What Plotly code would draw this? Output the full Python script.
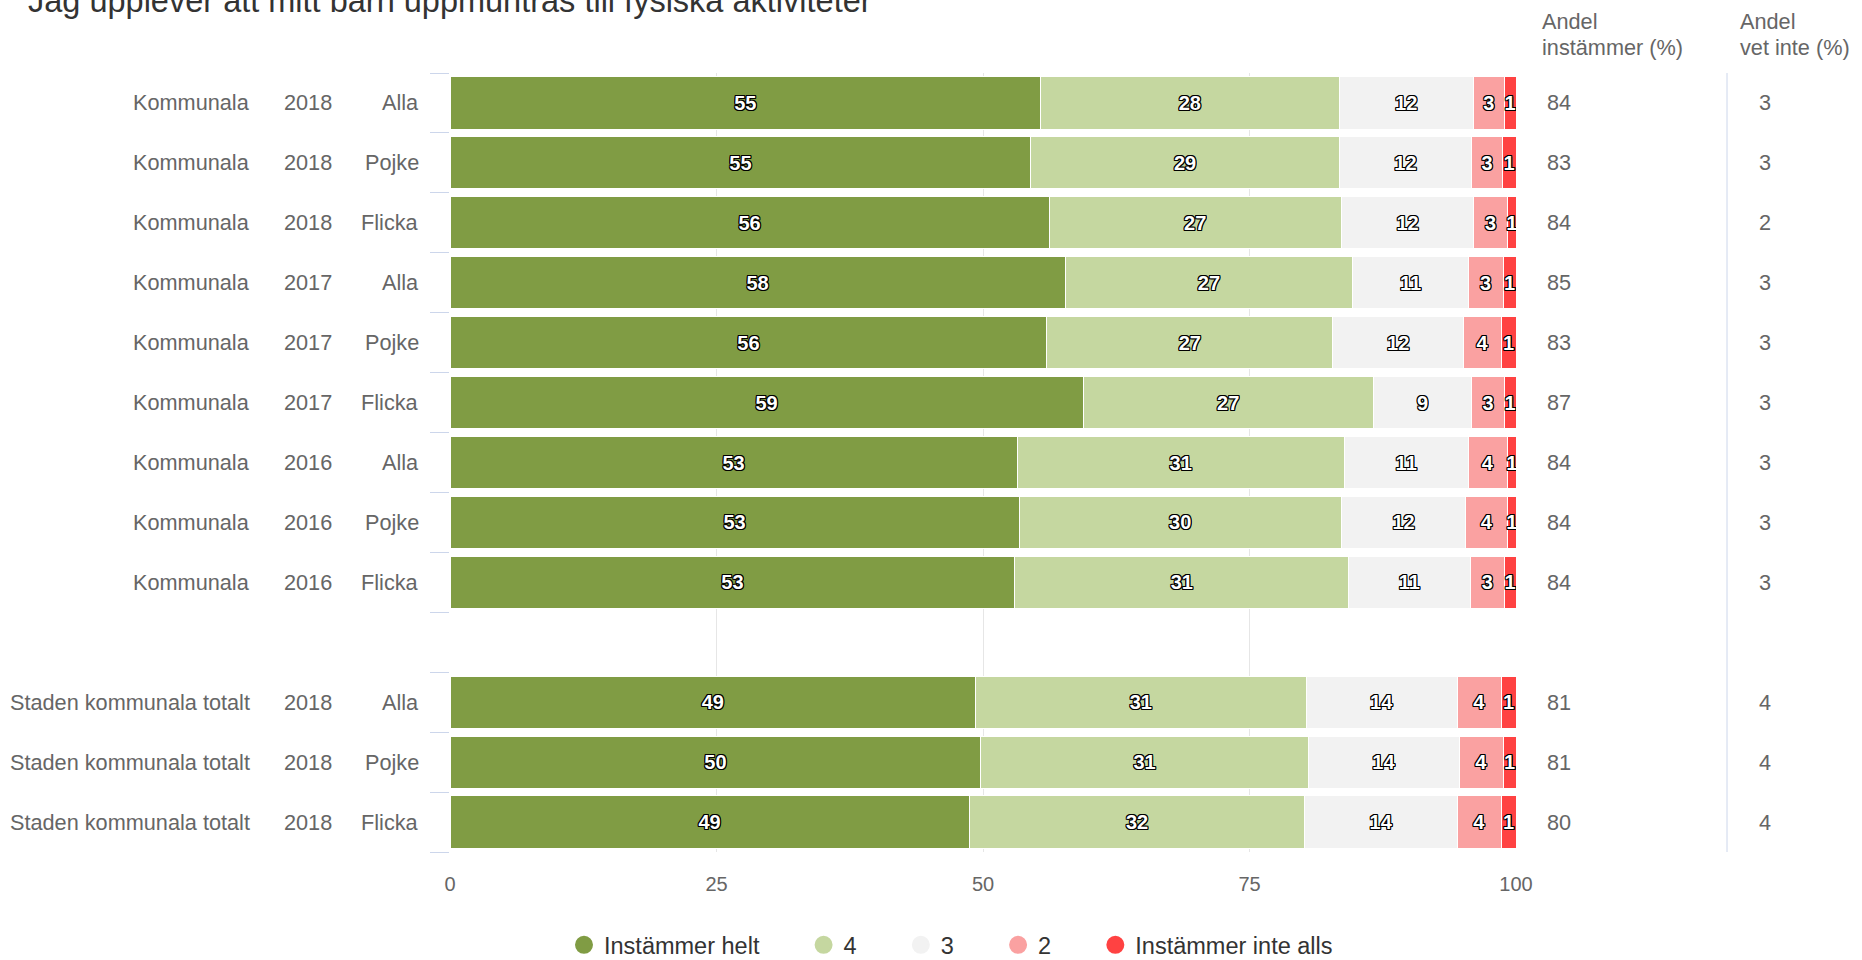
import plotly.graph_objects as go

# ---------------- data ----------------
groups = ["Kommunala"] * 9 + ["Staden kommunala totalt"] * 3
years = ["2018", "2018", "2018", "2017", "2017", "2017", "2016", "2016", "2016", "2018", "2018", "2018"]
genders = ["Alla", "Pojke", "Flicka"] * 4

series_names = ["Instämmer helt", "4", "3", "2", "Instämmer inte alls"]

helt = [55.4, 54.5, 56.2, 57.7, 56.0, 59.4, 53.2, 53.4, 53.0, 49.3, 49.8, 48.7]
v4 = [28.0, 28.9, 27.4, 27.0, 26.8, 27.2, 30.7, 30.2, 31.3, 31.0, 30.7, 31.5]
v3 = [12.6, 12.45, 12.45, 10.8, 12.3, 9.25, 11.6, 11.7, 11.4, 14.2, 14.2, 14.3]
v2 = [2.9, 2.85, 3.15, 3.3, 3.5, 3.05, 3.7, 3.9, 3.2, 4.1, 4.1, 4.1]
inte = [1.1, 1.3, 0.8, 1.2, 1.4, 1.1, 0.8, 0.8, 1.1, 1.4, 1.2, 1.4]

lab_helt = [55, 55, 56, 58, 56, 59, 53, 53, 53, 49, 50, 49]
lab_4 = [28, 29, 27, 27, 27, 27, 31, 30, 31, 31, 31, 32]
lab_3 = [12, 12, 12, 11, 12, 9, 11, 12, 11, 14, 14, 14]
lab_2 = [3, 3, 3, 3, 4, 3, 4, 4, 3, 4, 4, 4]
lab_inte = [1, 1, 1, 1, 1, 1, 1, 1, 1, 1, 1, 1]

andel_instammer = [84, 83, 84, 85, 83, 87, 84, 84, 84, 81, 81, 80]
andel_vet_inte = [3, 3, 2, 3, 3, 3, 3, 3, 3, 4, 4, 4]

x_ticks = [0, 25, 50, 75, 100]

title_text = "Jag upplever att mitt barn uppmuntras till fysiska aktiviteter"

# ---------------- styling ----------------
colors = ["#809c44", "#c5d7a0", "#f2f2f2", "#faa1a1", "#ff4242"]
FONT = "Liberation Sans, Arial, sans-serif"
W, H = 1862, 960
ML, MR, MT, MB = 450, 346, 73, 108
PW, PH = W - ML - MR, H - MT - MB


def px_x(px):
    return (px - ML) / PW


def px_y(py):
    return (H - MB - py) / PH


# rows 0..8 Kommunala, a blank slot, then the three city-total rows
ypos = [i if i < 9 else i + 1 for i in range(len(groups))]
n_slots = max(ypos) + 1

fig = go.Figure()

values = [helt, v4, v3, v2, inte]
labels = [lab_helt, lab_4, lab_3, lab_2, lab_inte]
shadow = ("-1px -1px 0 #000, 1px -1px 0 #000, -1px 1px 0 #000, 1px 1px 0 #000, "
          "0 1px 0 #000, 0 -1px 0 #000, 1px 0 0 #000, -1px 0 0 #000")

for name, vals, labs, col in zip(series_names, values, labels, colors):
    fig.add_trace(go.Bar(
        x=vals, y=ypos, orientation="h", name=name,
        marker=dict(color=col, line=dict(color="#ffffff", width=1)),
        text=[str(v) for v in labs], textposition="inside",
        insidetextanchor="middle", textangle=0, constraintext="none",
        textfont=dict(family=FONT, size=20, color="#ffffff", weight="bold", shadow=shadow),
        showlegend=False, hoverinfo="skip",
    ))

# legend entries with round symbols
pad = "\u00a0" * 6
for name, col in zip(series_names, colors):
    fig.add_trace(go.Scatter(
        x=[None], y=[None], mode="markers", name=name + pad,
        marker=dict(color=col, size=16, symbol="circle", line=dict(color=col, width=2)),
        showlegend=True,
    ))

annotations = []
label_font = dict(family=FONT, size=21.7, color="#666666")
for g, yr, gd, yp in zip(groups, years, genders, ypos):
    annotations.append(dict(text=g, x=px_x(252), xref="paper", y=yp, yref="y",
                            xanchor="right", yanchor="middle", showarrow=False, font=label_font))
    annotations.append(dict(text=yr, x=px_x(308), xref="paper", y=yp, yref="y",
                            xanchor="center", yanchor="middle", showarrow=False, font=label_font))
    annotations.append(dict(text=gd, x=px_x(421), xref="paper", y=yp, yref="y",
                            xanchor="right", yanchor="middle", showarrow=False, font=label_font))

for a, v, yp in zip(andel_instammer, andel_vet_inte, ypos):
    annotations.append(dict(text=str(a), x=px_x(1545), xref="paper", y=yp, yref="y",
                            xanchor="left", yanchor="middle", showarrow=False, font=label_font))
    annotations.append(dict(text=str(v), x=px_x(1765), xref="paper", y=yp, yref="y",
                            xanchor="center", yanchor="middle", showarrow=False, font=label_font))

hdr_font = dict(family=FONT, size=21.7, color="#666666")
for txt, xp, yp in [("Andel", 1540, 22), ("instämmer (%)", 1540, 48),
                    ("Andel", 1738, 22), ("vet inte (%)", 1738, 48)]:
    annotations.append(dict(text=txt, x=px_x(xp), xref="paper", y=px_y(yp), yref="paper",
                            xanchor="left", yanchor="middle", showarrow=False, font=hdr_font))

annotations.append(dict(text=title_text, x=px_x(26), xref="paper", y=px_y(1), yref="paper",
                        xanchor="left", yanchor="middle", showarrow=False,
                        font=dict(family=FONT, size=32.5, color="#333333")))

shapes = [dict(type="line", xref="paper", yref="paper", x0=px_x(1727), x1=px_x(1727),
               y0=0, y1=1, line=dict(color="#ccd6eb", width=1))]

fig.update_layout(
    width=W, height=H,
    margin=dict(l=ML, r=MR, t=MT, b=MB, pad=0, autoexpand=False),
    barmode="stack", bargap=0.13,
    plot_bgcolor="#ffffff", paper_bgcolor="#ffffff",
    font=dict(family=FONT, color="#666666"),
    xaxis=dict(range=[0, 100], tickvals=x_ticks, ticktext=[str(t) for t in x_ticks],
               showgrid=True, gridcolor="#e6e6e6", gridwidth=1, zeroline=False,
               showline=False, ticks="", ticklabelstandoff=18, automargin=False,
               tickfont=dict(family=FONT, size=20, color="#666666")),
    yaxis=dict(range=[n_slots - 0.5, -0.5], tickvals=[i - 0.5 for i in range(n_slots + 1)],
               showticklabels=False, ticks="outside", ticklen=19, tickcolor="#ccd6eb",
               tickwidth=1, showgrid=False, zeroline=False, showline=False, automargin=False),
    legend=dict(orientation="h", traceorder="normal", x=px_x(564), xanchor="left",
                y=px_y(945), yanchor="middle",
                font=dict(family=FONT, size=23.5, color="#333333"), bgcolor="rgba(0,0,0,0)",
                itemsizing="trace"),
    annotations=annotations,
    shapes=shapes,
)

fig.write_html("out.html", config={"displayModeBar": False},
               post_script="document.body.style.margin='0';")
